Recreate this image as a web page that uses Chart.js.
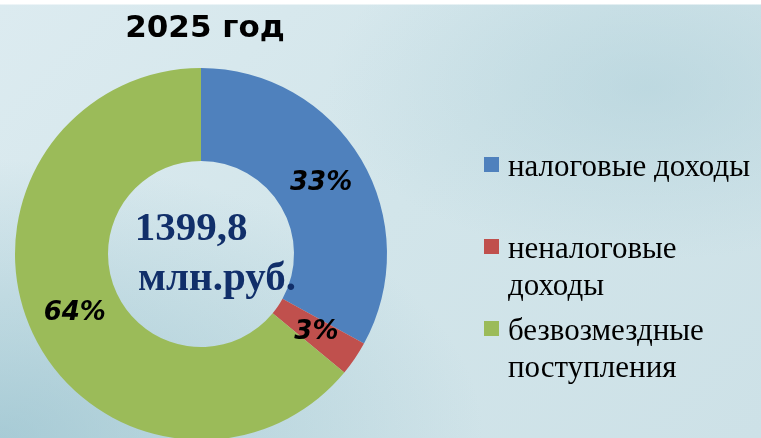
<!DOCTYPE html>
<html>
<head>
<meta charset="utf-8">
<script src="https://cdn.jsdelivr.net/npm/chart.js@4.4.1/dist/chart.umd.min.js"></script>
<style>
  html, body { margin: 0; padding: 0; }
  body { width: 761px; height: 438px; overflow: hidden; }
  #wrap {
    position: relative; width: 761px; height: 438px; overflow: hidden;
    background:
      linear-gradient(180deg, #ffffff 0, #ffffff 4px, rgba(255,255,255,0) 5px),
      radial-gradient(ellipse at 0% 100%, rgba(130,180,195,0.55) 0, rgba(130,180,195,0) 45%),
      radial-gradient(ellipse at 85% 20%, rgba(170,205,215,0.5) 0, rgba(170,205,215,0) 35%),
      linear-gradient(135deg, #dcebf0 0%, #d2e5ea 50%, #cde1e7 100%);
  }
  canvas { position: absolute; left: 0; top: 0; }
</style>
</head>
<body>
<div id="wrap"><canvas id="chart" width="761" height="450"></canvas></div>
<script>
// data
const categories = ['налоговые доходы', 'неналоговые доходы', 'безвозмездные поступления'];
const shares = [33, 3, 64];
const legendLines = [['налоговые доходы'], ['неналоговые', 'доходы'], ['безвозмездные', 'поступления']];
const colors = ['#4f81bd', '#c0504d', '#9bbb59'];
const titleText = '2025 год';
const totalLines = ['1399,8', 'млн.руб.'];

// title, labels, center text and legend
const extras = {
  id: 'extras',
  afterDraw(chart) {
    const ctx = chart.ctx;
    const meta = chart.getDatasetMeta(0);
    const area = chart.chartArea;
    const cx = (area.left + area.right) / 2;
    const cy = (area.top + area.bottom) / 2;
    ctx.save();

    // title
    ctx.fillStyle = '#000';
    ctx.textAlign = 'center';
    ctx.textBaseline = 'alphabetic';
    ctx.font = 'bold 31px "DejaVu Sans"';
    ctx.fillText(titleText, 205, 37);

    // percent labels
    ctx.font = 'italic bold 26px "DejaVu Sans"';
    ctx.textBaseline = 'middle';
    meta.data.forEach((arc, i) => {
      const p = arc.tooltipPosition();
      ctx.fillText(shares[i] + '%', p.x, p.y);
    });

    // center text
    ctx.fillStyle = '#112f6a';
    ctx.font = 'bold 41px "Liberation Serif"';
    ctx.textBaseline = 'alphabetic';
    ctx.fillText(totalLines[0], cx - 10, 240);
    ctx.fillText(totalLines[1], cx + 16, 290);

    // legend
    const baselines = [176, 258, 340];
    ctx.textAlign = 'left';
    ctx.font = '31px "Liberation Serif"';
    legendLines.forEach((lines, i) => {
      ctx.fillStyle = colors[i];
      ctx.fillRect(484, baselines[i] - 19, 15, 15);
      ctx.fillStyle = '#000';
      lines.forEach((t, j) => ctx.fillText(t, 508, baselines[i] + j * 37));
    });
    ctx.restore();
  }
};

new Chart(document.getElementById('chart'), {
  type: 'doughnut',
  data: {
    labels: categories,
    datasets: [{
      data: shares,
      backgroundColor: colors,
      borderWidth: 0,
      clip: false
    }]
  },
  options: {
    responsive: false,
    animation: false,
    cutout: '50%',
    layout: { padding: { top: 68, left: 15, right: 374, bottom: 10 } },
    plugins: {
      legend: { display: false },
      tooltip: { enabled: false }
    }
  },
  plugins: [extras]
});
</script>
</body>
</html>
